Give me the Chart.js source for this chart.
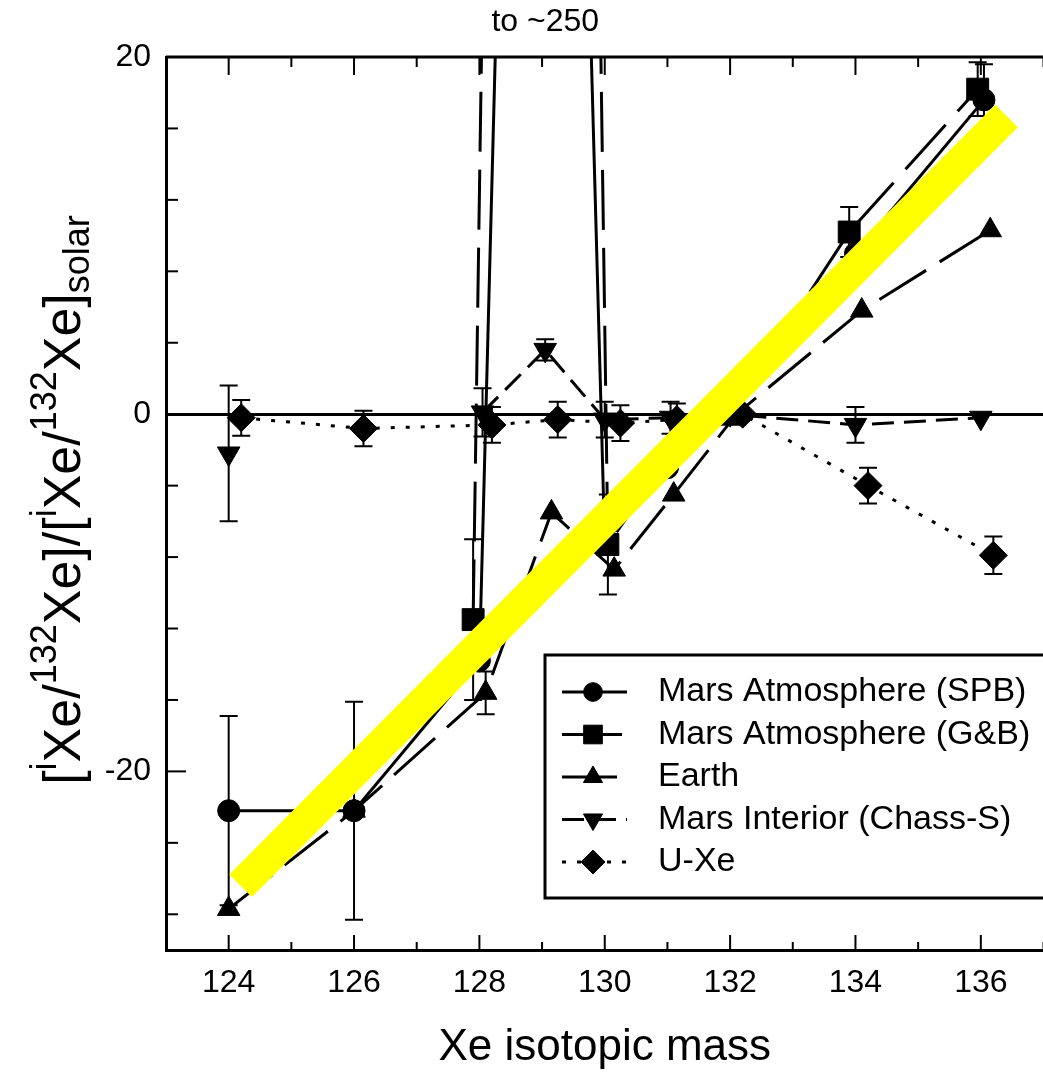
<!DOCTYPE html>
<html>
<head>
<meta charset="utf-8">
<script src="https://cdn.jsdelivr.net/npm/chart.js@4.4.1/dist/chart.umd.min.js"></script>
<style>
  html, body { margin: 0; padding: 0; background: #fff; overflow: hidden; }
  #wrap { width: 1060px; height: 1074px; }
</style>
</head>
<body>
<div id="wrap"><canvas id="c" width="1060" height="1074"></canvas></div>
<script>
const FONT = '"Liberation Sans", Arial, Helvetica, sans-serif';

// axis ticks
const xTicks = [123, 124, 125, 126, 127, 128, 129, 130, 131, 132, 133, 134, 135, 136, 137];
const xLabels = [124, 126, 128, 130, 132, 134, 136];
const yTicks = [-28, -24, -20, -16, -12, -8, -4, 0, 4, 8, 12, 16, 20];
const yLabels = [-20, 0, 20];

// Mars Atmosphere (SPB)
const spbMass = [124, 126, 128, 129, 130, 131, 132, 134, 136.05];
const spbVal  = [-22.2, -22.2, -13.8, 120, -7.2, -3.0, 0, 9.0, 17.6];
const spbErr  = [5.3, 6.1, 0, 0, 0, 0, 0, 0, 2.0];

// Mars Atmosphere (G&B)
const gbMass = [127.9, 129, 130.05, 131, 132, 133.9, 135.95];
const gbVal  = [-11.5, 250, -7.3, -2.5, 0, 10.2, 18.2];
const gbErr  = [4.5, 0, 2.8, 0, 0, 1.4, 1.5];

// Earth
const earthMass = [124, 126, 128.1, 129.15, 130.15, 131.1, 132.1, 134.1, 136.15];
const earthVal  = [-27.7, -22.2, -15.6, -5.5, -8.7, -4.5, 0, 5.8, 10.3];
const earthErr  = [0, 0, 1.2, 0, 0, 0, 0, 0, 0];

// Mars Interior (Chass-S)
const intMass = [124, 126, 128.05, 129.05, 130, 131.05, 132, 134, 136];
const intVal  = [-2.2, null, 0.1, 3.6, -0.3, -0.2, 0, -0.6, -0.2];
const intErr  = [3.8, 0, 1.35, 0.6, 1.0, 0.9, 0, 1.0, 0];

// U-Xe
const uxeMass = [124.2, 126.15, 128.2, 129.25, 130.25, 131.15, 132.2, 134.2, 136.2];
const uxeVal  = [-0.2, -0.8, -0.6, -0.3, -0.5, -0.3, 0, -4.0, -7.9];
const uxeErr  = [1.0, 1.0, 1.0, 1.0, 1.0, 0.9, 0, 1.0, 1.05];

// yellow highlight stroke
const hlMass = [124.19, 136.41];
const hlVal  = [-26.4, 16.7];

const pts = (xs, ys) => xs.map((m, i) => ({ x: m, y: ys[i] }));

function series(label, xs, ys, errs, style, radius, dash, rotation) {
  return {
    label, data: pts(xs, ys), errors: errs,
    borderColor: '#000', backgroundColor: '#000', borderWidth: 3, borderDash: dash,
    pointStyle: style, pointRadius: radius, pointRotation: rotation || 0,
    pointBackgroundColor: '#000', pointBorderColor: '#000', pointBorderWidth: 1,
    tension: 0, clip: 0
  };
}

const frameTicks = {
  id: 'frameTicks',
  beforeDatasetsDraw(chart) {
    const { ctx, chartArea: a, scales: { x, y } } = chart;
    ctx.save();
    ctx.strokeStyle = '#000';
    ctx.lineWidth = 3;
    ctx.beginPath(); ctx.moveTo(a.left, a.top); ctx.lineTo(a.right, a.top); ctx.stroke();
    ctx.lineWidth = 2;
    x.ticks.forEach(t => {
      const px = x.getPixelForValue(t.value), major = t.value % 2 === 0;
      ctx.beginPath();
      ctx.moveTo(px, a.bottom); ctx.lineTo(px, a.bottom - (major ? 15 : 8));
      ctx.moveTo(px, a.top); ctx.lineTo(px, a.top + (major ? 18 : 10));
      ctx.stroke();
    });
    y.ticks.forEach(t => {
      const py = y.getPixelForValue(t.value), major = yLabels.includes(t.value);
      ctx.beginPath(); ctx.moveTo(a.left, py); ctx.lineTo(a.left + (major ? 20 : 12), py); ctx.stroke();
    });
    ctx.restore();
  }
};

const errorBars = {
  id: 'errorBars',
  beforeDatasetsDraw(chart) {
    const { ctx, chartArea: a, scales: { x, y } } = chart;
    ctx.save();
    ctx.beginPath(); ctx.rect(a.left, a.top, a.right - a.left, a.bottom - a.top); ctx.clip();
    ctx.strokeStyle = '#000';
    ctx.lineWidth = 2;
    chart.data.datasets.forEach(ds => {
      if (!ds.errors) return;
      ds.data.forEach((p, i) => {
        const e = ds.errors[i];
        if (!e || p.y == null) return;
        const px = x.getPixelForValue(p.x), hi = y.getPixelForValue(p.y + e), lo = y.getPixelForValue(p.y - e);
        ctx.beginPath();
        ctx.moveTo(px, hi); ctx.lineTo(px, lo);
        ctx.moveTo(px - 9, hi); ctx.lineTo(px + 9, hi);
        ctx.moveTo(px - 9, lo); ctx.lineTo(px + 9, lo);
        ctx.stroke();
      });
    });
    ctx.restore();
  }
};

const boxLegend = {
  id: 'boxLegend',
  afterDraw(chart) {
    const { ctx } = chart;
    const L = 545, T = 655, B = 898, R = chart.width + 10;
    ctx.save();
    ctx.fillStyle = '#fff'; ctx.fillRect(L, T, R - L, B - T);
    ctx.strokeStyle = '#000'; ctx.lineWidth = 3; ctx.strokeRect(L, T, R - L, B - T);
    chart.data.datasets.filter(d => d.errors).forEach((ds, i) => {
      const yy = 692 + i * 42.5;
      const end = ds.pointStyle === 'triangle' && !ds.pointRotation ? 618 : 627;
      ctx.strokeStyle = '#000'; ctx.lineWidth = 3;
      ctx.setLineDash(ds.borderDash || []);
      ctx.beginPath(); ctx.moveTo(562, yy); ctx.lineTo(end, yy); ctx.stroke();
      ctx.setLineDash([]);
      ctx.fillStyle = '#000'; ctx.lineWidth = 1;
      Chart.helpers.drawPoint(ctx, { pointStyle: ds.pointStyle, radius: ds.pointRadius * 0.85, rotation: ds.pointRotation || 0, borderWidth: 1 }, 593, yy);
      ctx.font = '34px ' + FONT; ctx.textBaseline = 'middle'; ctx.textAlign = 'left';
      ctx.fillText(ds.label, 658, yy);
    });
    ctx.restore();
  }
};

const texts = {
  id: 'texts',
  afterDraw(chart) {
    const { ctx, scales: { x } } = chart;
    ctx.save();
    ctx.fillStyle = '#000';
    ctx.font = '32px ' + FONT; ctx.textAlign = 'center'; ctx.textBaseline = 'middle';
    ctx.fillText('to ~250', x.getPixelForValue(129.05), 22);

    // y title with super/subscripts, rotated
    const parts = [['[', 0], ['i', 1], ['Xe/', 0], ['132', 1], ['Xe]/[', 0], ['i', 1], ['Xe/', 0], ['132', 1], ['Xe]', 0], ['solar', -1]];
    const fontFor = k => (k === 0 ? 52 : 36) + 'px ' + FONT;
    let total = 0;
    parts.forEach(([t, k]) => { ctx.font = fontFor(k); total += ctx.measureText(t).width; });
    ctx.translate(80, 500);
    ctx.rotate(-Math.PI / 2);
    ctx.textAlign = 'left'; ctx.textBaseline = 'alphabetic';
    let cx = -total / 2;
    parts.forEach(([t, k]) => {
      ctx.font = fontFor(k);
      ctx.fillText(t, cx, k === 1 ? -24 : k === -1 ? 9 : 0);
      cx += ctx.measureText(t).width;
    });
    ctx.restore();
  }
};

new Chart(document.getElementById('c'), {
  type: 'line',
  data: {
    datasets: [
      { label: 'highlight', data: pts(hlMass, hlVal), borderColor: '#ffff00', borderWidth: 32, borderCapStyle: 'butt', pointRadius: 0, order: -1, clip: false },
      series('Mars Atmosphere (SPB)', spbMass, spbVal, spbErr, 'circle', 11, []),
      series('Mars Atmosphere (G&B)', gbMass, gbVal, gbErr, 'rect', 15.5, [60, 18]),
      series('Earth', earthMass, earthVal, earthErr, 'triangle', 13, [55, 16]),
      series('Mars Interior (Chass-S)', intMass, intVal, intErr, 'triangle', 13, [22, 10], 180),
      series('U-Xe', uxeMass, uxeVal, uxeErr, 'rectRot', 14, [4, 11])
    ]
  },
  options: {
    responsive: false,
    animation: false,
    devicePixelRatio: 1,
    layout: { padding: { top: 57, right: 11, left: 0, bottom: 0 } },
    plugins: { legend: { display: false }, tooltip: { enabled: false } },
    scales: {
      x: {
        type: 'linear', min: 123, max: 137,
        afterBuildTicks: s => { s.ticks = xTicks.map(v => ({ value: v })); },
        afterFit: s => { s.height = 124; },
        grid: { display: false, drawTicks: false },
        border: { display: true, color: '#000', width: 3 },
        ticks: {
          autoSkip: false, maxRotation: 0, padding: 14, color: '#000',
          font: { family: FONT, size: 32 },
          callback: v => xLabels.includes(v) ? String(v) : ''
        },
        title: { display: true, text: 'Xe isotopic mass', color: '#000', font: { family: FONT, size: 44 }, padding: { top: 0, bottom: 0 } }
      },
      y: {
        type: 'linear', min: -30, max: 20,
        afterBuildTicks: s => { s.ticks = yTicks.map(v => ({ value: v })); },
        afterFit: s => { s.width = 166; },
        grid: { drawTicks: false, lineWidth: 3, color: c => (c.tick && c.tick.value === 0) ? '#000' : 'rgba(0,0,0,0)' },
        border: { display: true, color: '#000', width: 3 },
        ticks: {
          padding: 15, color: '#000',
          font: { family: FONT, size: 32 },
          callback: v => yLabels.includes(v) ? String(v) : ''
        }
      }
    }
  },
  plugins: [frameTicks, errorBars, boxLegend, texts]
});
</script>
</body>
</html>
